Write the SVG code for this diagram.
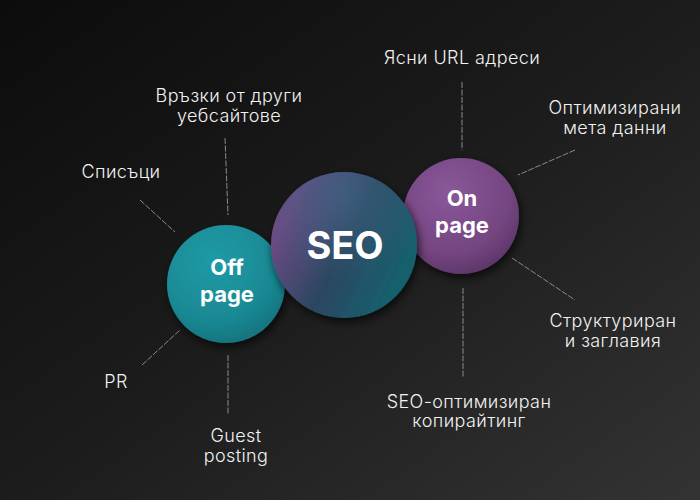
<svg xmlns="http://www.w3.org/2000/svg" width="700" height="500" viewBox="0 0 700 500">
<defs>
<linearGradient id="bg" x1="0" y1="0" x2="1" y2="1">
<stop offset="0" stop-color="#0c0c0c"/>
<stop offset="0.5" stop-color="#1c1c1c"/>
<stop offset="1" stop-color="#333333"/>
</linearGradient>
<radialGradient id="gOff" cx="0.4" cy="0.3" r="0.75">
<stop offset="0" stop-color="#1e9ba6"/>
<stop offset="0.7" stop-color="#198893"/>
<stop offset="1" stop-color="#13707a"/>
</radialGradient>
<radialGradient id="gOn" cx="0.4" cy="0.3" r="0.75">
<stop offset="0" stop-color="#8a579a"/>
<stop offset="0.7" stop-color="#744580"/>
<stop offset="1" stop-color="#5a3566"/>
</radialGradient>
<linearGradient id="gSeo" x1="0.1" y1="0.3" x2="0.9" y2="0.7">
<stop offset="0" stop-color="#6b4b84"/>
<stop offset="0.5" stop-color="#2c4660"/>
<stop offset="1" stop-color="#16606e"/>
</linearGradient>
<radialGradient id="gSeoHi" cx="0.5" cy="0.15" r="0.6">
<stop offset="0" stop-color="#3d6a88" stop-opacity="0.6"/>
<stop offset="1" stop-color="#3d6a88" stop-opacity="0"/>
</radialGradient>
<filter id="sh" x="-30%" y="-30%" width="160%" height="160%">
<feGaussianBlur in="SourceAlpha" stdDeviation="5"/>
<feOffset dx="2" dy="4"/>
<feComponentTransfer><feFuncA type="linear" slope="0.7"/></feComponentTransfer>
<feMerge><feMergeNode/><feMergeNode in="SourceGraphic"/></feMerge>
</filter>
</defs>
<style>
.lbl{font-family:Inter,"Liberation Sans",sans-serif;font-weight:300;font-size:18px;letter-spacing:0.4px;fill:#f2f2f2;text-anchor:middle}
.big{font-family:Inter,"Liberation Sans",sans-serif;font-weight:700;fill:#ffffff;text-anchor:middle}
.con{stroke:#8a8a8a;stroke-width:1;stroke-dasharray:6 1.5;fill:none}
</style>
<rect width="700" height="500" fill="url(#bg)"/>
<g id="connectors">
<line class="con" x1="462" y1="82" x2="462" y2="150"/>
<line class="con" x1="575" y1="150" x2="518" y2="175"/>
<line class="con" x1="225" y1="138" x2="228" y2="215"/>
<line class="con" x1="140" y1="200" x2="175" y2="232"/>
<line class="con" x1="142" y1="365" x2="180" y2="330"/>
<line class="con" x1="228" y1="355" x2="228" y2="415"/>
<line class="con" x1="512" y1="258" x2="575" y2="300"/>
<line class="con" x1="463" y1="288" x2="463" y2="378"/>
</g>
<g id="offpage">
<circle cx="226" cy="284" r="59" fill="url(#gOff)" filter="url(#sh)"/>
<text class="big" x="227" y="275" font-size="22">Off</text>
<text class="big" x="227" y="302" font-size="22">page</text>
</g>
<g id="onpage">
<circle cx="461" cy="216" r="58" fill="url(#gOn)" filter="url(#sh)"/>
<text class="big" x="462" y="206" font-size="22">On</text>
<text class="big" x="462" y="233" font-size="22">page</text>
</g>
<g id="seo">
<circle cx="344" cy="245" r="73" fill="url(#gSeo)" filter="url(#sh)"/>
<circle cx="344" cy="245" r="73" fill="url(#gSeoHi)"/>
<text class="big" x="345" y="259" font-size="38">SEO</text>
</g>
<g id="label-urls"><text class="lbl" x="462" y="64">Ясни URL адреси</text></g>
<g id="label-meta"><text class="lbl" x="615" y="114">Оптимизирани</text><text class="lbl" x="615" y="134">мета данни</text></g>
<g id="label-links"><text class="lbl" x="229" y="102">Връзки от други</text><text class="lbl" x="229" y="122">уебсайтове</text></g>
<g id="label-lists"><text class="lbl" x="121" y="178">Списъци</text></g>
<g id="label-pr"><text class="lbl" x="116" y="388">PR</text></g>
<g id="label-guest"><text class="lbl" x="236" y="442">Guest</text><text class="lbl" x="236" y="462">posting</text></g>
<g id="label-struct"><text class="lbl" x="613" y="327">Структуриран</text><text class="lbl" x="613" y="347">и заглавия</text></g>
<g id="label-copy"><text class="lbl" x="469" y="408">SEO-оптимизиран</text><text class="lbl" x="469" y="427">копирайтинг</text></g>
</svg>
